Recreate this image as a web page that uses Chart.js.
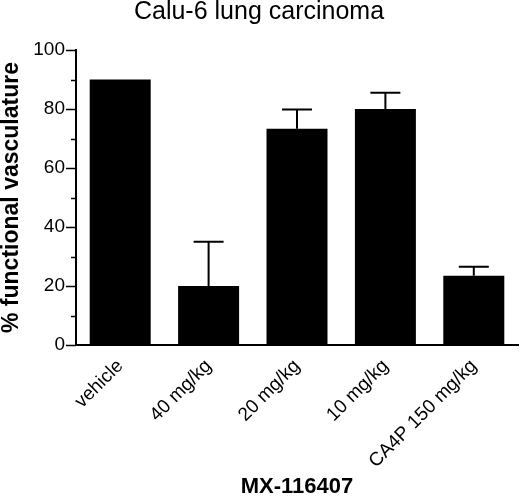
<!DOCTYPE html>
<html>
<head>
<meta charset="utf-8">
<script src="https://cdn.jsdelivr.net/npm/chart.js@4"></script>
<style>
  html, body { margin: 0; padding: 0; background: #fff; }
  #wrap { width: 520px; height: 497px; }
</style>
</head>
<body>
<div id="wrap"><canvas id="chart"></canvas></div>
<script>
// ── data ──
const groups    = ['vehicle', '40 mg/kg', '20 mg/kg', '10 mg/kg', 'CA4P 150 mg/kg'];
const meanVals  = [90, 20, 73.3, 80, 23.5];
const errUpper  = [0, 15, 6.5, 5.5, 3];
const yTicks    = [0, 20, 40, 60, 80, 100];

const FONT = 'Liberation Sans, Arial, sans-serif';

// error bars (upper half only) drawn from the y scale
const errorBars = {
  id: 'errorBars',
  afterDatasetsDraw(chart) {
    const { ctx, scales: { y } } = chart;
    const meta = chart.getDatasetMeta(0);
    ctx.save();
    ctx.strokeStyle = '#000';
    ctx.lineWidth = 2;
    meta.data.forEach((bar, i) => {
      if (!errUpper[i]) return;
      const top = y.getPixelForValue(meanVals[i] + errUpper[i]);
      const base = y.getPixelForValue(meanVals[i]);
      ctx.beginPath();
      ctx.moveTo(bar.x, base);
      ctx.lineTo(bar.x, top);
      ctx.moveTo(bar.x - 15, top);
      ctx.lineTo(bar.x + 15, top);
      ctx.stroke();
    });
    ctx.restore();
  }
};

// major / minor tick marks on the y axis
const yTickMarks = {
  id: 'yTickMarks',
  afterDraw(chart) {
    const { ctx, scales: { y } } = chart;
    ctx.save();
    ctx.strokeStyle = '#000';
    ctx.lineWidth = 1.5;
    for (let v = 0; v <= 100; v += 10) {
      const py = Math.round(y.getPixelForValue(v)) + 0.5;
      const len = v % 20 === 0 ? 10 : 5;
      ctx.beginPath();
      ctx.moveTo(y.right - len, py);
      ctx.lineTo(y.right, py);
      ctx.stroke();
    }
    ctx.restore();
  }
};

new Chart(document.getElementById('chart'), {
  type: 'bar',
  data: {
    labels: groups,
    datasets: [{
      data: meanVals,
      backgroundColor: '#000',
      borderWidth: 0,
      categoryPercentage: 1,
      barPercentage: 0.69
    }]
  },
  options: {
    responsive: true,
    maintainAspectRatio: false,
    animation: false,
    layout: { padding: { top: 0, right: 2, left: 0, bottom: 0 } },
    plugins: {
      legend: { display: false },
      tooltip: { enabled: false },
      title: {
        display: true,
        text: 'Calu-6 lung carcinoma',
        color: '#000',
        font: { family: FONT, size: 25, weight: 'normal', lineHeight: 1 },
        padding: { top: 0, bottom: 25 }
      }
    },
    scales: {
      x: {
        grid: { display: false, drawTicks: false },
        border: { color: '#000', width: 2 },
        ticks: {
          color: '#000',
          font: { family: FONT, size: 19 },
          maxRotation: 45, minRotation: 45,
          padding: 10
        },
        title: {
          display: true,
          text: 'MX-116407',
          color: '#000',
          font: { family: FONT, size: 22, weight: 'bold', lineHeight: 0.9 },
          padding: { top: 0, bottom: 0 }
        },
        afterFit(scale) { scale.height = 152; }
      },
      y: {
        min: 0, max: 100,
        afterBuildTicks(scale) { scale.ticks = yTicks.map(v => ({ value: v })); },
        grid: { display: false, drawTicks: false },
        border: { color: '#000', width: 2 },
        ticks: {
          color: '#000',
          font: { family: FONT, size: 19 },
          padding: 11
        },
        title: {
          display: true,
          text: '% functional vasculature',
          color: '#000',
          font: { family: FONT, size: 23, weight: 'bold', lineHeight: 1 },
          padding: { top: 0, bottom: 0 }
        },
        afterFit(scale) { scale.width = 76; }
      }
    }
  },
  plugins: [errorBars, yTickMarks]
});
</script>
</body>
</html>
